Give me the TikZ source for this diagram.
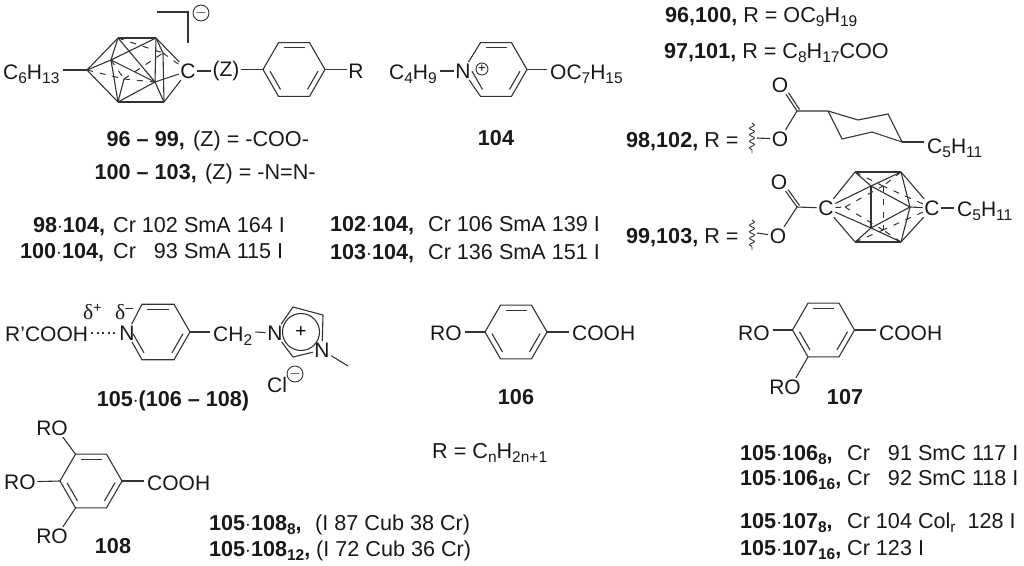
\documentclass[tikz,border=0pt]{standalone}
\usepackage{fontspec}
\setmainfont{Liberation Sans}
\newfontfamily\grkfont{Liberation Serif}
\usetikzlibrary{positioning,decorations.pathmorphing}

\tikzset{
  bond/.style={line width=1.1pt, black!80},
  backbond/.style={line width=1pt, black!80, dash pattern=on 6pt off 7pt},
  wavy/.style={line width=0.9pt, black!80, decorate, decoration={snake, amplitude=2.5pt, segment length=6.5pt}},
  atom/.style={inner sep=1.5pt, font=\fontsize{21}{24}\selectfont, text=black!90},
  txt/.style={inner sep=0pt, anchor=base west, font=\fontsize{21.6}{24}\selectfont, text=black!90},
  chem/.style={txt, inner xsep=3pt, font=\fontsize{21}{24}\selectfont},
  lab/.style={txt, anchor=base, font=\fontsize{21.6}{24}\selectfont\bfseries},
  charge/.style={circle, draw=black!80, line width=0.9pt, minimum size=16pt, inner sep=0pt, font=\fontsize{15}{15}\selectfont}
}

% lowered index in the running font
\newcommand{\idx}[1]{{\fontsize{15.5}{15}\selectfont\raisebox{-4pt}{#1}}}
\newcommand{\dlt}[1]{{\grkfont δ}{\fontsize{14}{14}\selectfont\raisebox{7pt}{#1}}}

% six corners and the three inner double bonds of a ring
\newcommand{\ringat}[4]{%
  \foreach \a/\i in {180/1,-120/2,-60/3,0/4,60/5,120/6} {
    \coordinate (#1\i) at ([shift={(#2,#3)}]\a:#4);
    \coordinate (#1i\i) at ([shift={(#2,#3)}]\a:#4-6);
  }
  \foreach \p/\q in {2/3,4/5,6/1} \draw[bond, shorten >=2pt, shorten <=2pt] (#1i\p) -- (#1i\q);
}

\begin{document}
\begin{tikzpicture}[x=1pt, y=-1pt]
\useasboundingbox (0,0) rectangle (1024,565);

% Carborane anion 96-103
\node[chem] (hexyl) at (0,79) {C\idx{6}H\idx{13}};
\node[atom] (cI) at (188,71) {C};
\node[atom] (zgrp) at (226,71) {(Z)};
\node[atom] (rI) at (356,71) {R};
\coordinate (cL) at (87,70);
\coordinate (cTL) at (118,38);
\coordinate (cTR) at (156,38);
\coordinate (cBL) at (118,102);
\coordinate (cBR) at (164,102);
\coordinate (cA) at (111,60);
\coordinate (cB) at (155,82);
\coordinate (cP) at (124,79);
\coordinate (cQ) at (163,53);
\foreach \p/\q in {cL/cTL,cL/cBL,cTL/cTR,cBL/cBR,cL/cA,cA/cTL,cA/cTR,cA/cBL,cA/cB,cTL/cB,cB/cBL,cB/cBR,cB/cI,cTR/cI,cBR/cI,cQ/cBR,cTR/cB,cP/cBL,cTR/cQ}
  \draw[bond] (\p) -- (\q);
\foreach \p/\q in {cL/cP,cP/cB,cP/cQ,cTL/cQ,cQ/cI,cA/cP}
  \draw[backbond] (\p) -- (\q);
\draw[bond] (hexyl.east |- cL) -- (cL);
% bracket and charge
\coordinate (brA) at (157,12);
\coordinate (brB) at (188,12);
\coordinate (brC) at (188,43);
\draw[bond] (brA) -- (brB) -- (brC);
\node[charge] (minusI) at (201,13) {$-$};

% Phenyl ring of 96
\ringat{pI}{294}{69.5}{31}
\draw[bond] (pI1) -- (pI2) -- (pI3) -- (pI4) -- (pI5) -- (pI6) -- cycle;
\draw[bond] (cI) -- (zgrp);
\draw[bond] (zgrp.east |- pI1) -- (pI1);
\draw[bond] (pI4) -- (rI.west |- pI4);
\node[txt, anchor=base east] (capI) at (185,146) {\textbf{96 – 99,}};
\node[txt] (capIb) at (193,146) {(Z) = -COO-};
\node[txt, anchor=base east] (capII) at (197,179) {\textbf{100 – 103,}};
\node[txt] (capIIb) at (205,179) {(Z) = -N=N-};

% Pyridinium 104
\ringat{pII}{496}{69.5}{31}
\node[chem] (butyl) at (386,79) {C\idx{4}H\idx{9}};
\node[atom] (nII) at (463,71) {N};
\node[charge, minimum size=12pt, font=\fontsize{13}{13}\selectfont] (plusII) at (482,69) {+};
\node[chem] (heptyl) at (547,79) {OC\idx{7}H\idx{15}};
\draw[bond] (nII) -- (pII2) -- (pII3) -- (pII4) -- (pII5) -- (pII6) -- (nII);
\draw[bond] (butyl.east |- nII) -- (nII);
\draw[bond] (pII4) -- (heptyl.west |- pII4);
\node[lab] (lbCIV) at (496,145) {104};

% R groups top right
\node[txt] (rgA) at (665,22) {\textbf{96,100,} R = OC\idx{9}H\idx{19}};
\node[txt] (rgB) at (664,58) {\textbf{97,101,} R = C\idx{8}H\idx{17}COO};
\node[txt] (rgC) at (626,147) {\textbf{98,102,} R =};
\node[txt] (rgD) at (626,243) {\textbf{99,103,} R =};

% Cyclohexane ester
\coordinate (wavA) at (752,123);
\coordinate (wavB) at (752,153);
\draw[wavy] (wavA) -- (wavB);
\coordinate (wavC) at (757,138);
\node[atom] (oA) at (780,139) {O};
\node[atom] (oB) at (780,85) {O};
\coordinate (coA) at (797,111);
\coordinate (hxA) at (828,111);
\coordinate (hxB) at (858,120);
\coordinate (hxC) at (888,114);
\coordinate (hxD) at (902,142);
\coordinate (hxE) at (872,132);
\coordinate (hxF) at (842,139);
\node[chem] (pentA) at (924,153) {C\idx{5}H\idx{11}};
\draw[bond] (wavC) -- (oA);
\draw[bond] (oA) -- (coA) -- (hxA) -- (hxB) -- (hxC) -- (hxD) -- (hxE) -- (hxF) -- (hxA);
\draw[bond] (coA) -- (oB);
\draw[bond, transform canvas={xshift=2.5pt, yshift=1.5pt}] (coA) -- (oB);
\draw[bond] (hxD) -- (pentA.west |- hxD);

% Carborane ester
\coordinate (wavD) at (752,220);
\coordinate (wavE) at (752,250);
\draw[wavy] (wavD) -- (wavE);
\coordinate (wavF) at (757,233);
\node[atom] (oC) at (778,236) {O};
\node[atom] (oD) at (779,182) {O};
\coordinate (coB) at (797,207);
\node[atom] (cII) at (826,208) {C};
\node[atom] (cIII) at (932,208) {C};
\node[chem] (pentB) at (954,216) {C\idx{5}H\idx{11}};
\coordinate (dTL) at (855,172);
\coordinate (dTR) at (901,172);
\coordinate (dBL) at (855,242);
\coordinate (dBR) at (901,242);
\coordinate (dA) at (871,186);
\coordinate (dB) at (871,228);
\coordinate (dD) at (910,207);
\coordinate (dE) at (845,207);
\coordinate (dF) at (883,186);
\coordinate (dG) at (883,230);
\draw[bond] (wavF) -- (oC);
\draw[bond] (oC) -- (coB) -- (cII);
\draw[bond] (coB) -- (oD);
\draw[bond, transform canvas={xshift=2.5pt, yshift=1.5pt}] (coB) -- (oD);
\draw[bond] (cIII) -- (pentB.west |- cIII);
\foreach \p/\q in {cII/dTL,cII/dBL,dTL/dTR,dBL/dBR,dTR/cIII,dBR/cIII,dTL/dA,dA/dTR,dA/dB,dBL/dB,dB/dBR,dA/dD,dB/dD,dTR/dD,dBR/dD,dD/cIII,cII/dA,cII/dB}
  \draw[bond] (\p) -- (\q);
\foreach \p/\q in {cII/dE,dE/dF,dE/dG,dF/dG,dTL/dF,dTR/dF,dBL/dG,dBR/dG,cIII/dF,cIII/dG}
  \draw[backbond] (\p) -- (\q);

% Phase data, left block
\node[txt] (dtA) at (33,232) {\textbf{98$\cdot$104,}};
\node[txt] (dtAb) at (113,232) {Cr 102 SmA 164 I};
\node[txt] (dtB) at (20,258) {\textbf{100$\cdot$104,}};
\node[txt] (dtBb) at (113,258) {Cr \ \ 93 SmA 115 I};
\node[txt] (dtC) at (330,231) {\textbf{102$\cdot$104,}};
\node[txt] (dtCb) at (428,231) {Cr 106 SmA 139 I};
\node[txt] (dtD) at (330,259) {\textbf{103$\cdot$104,}};
\node[txt] (dtDb) at (428,259) {Cr 136 SmA 151 I};

% Salt 105
\node[chem] (acid) at (2,341) {R'COOH};
\node[atom] (nPy) at (127,333) {N};
\node[txt] (dplus) at (83,319) {\dlt{+}};
\node[txt] (dminus) at (115,319) {\dlt{–}};
\ringat{pIII}{158}{332}{32}
\node[chem] (meth) at (210,341) {CH\idx{2}};
\node[atom] (nImA) at (275,333) {N};
\node[atom] (nImB) at (322,350) {N};
\coordinate (imA) at (293,307);
\coordinate (imB) at (323,315);
\coordinate (imC) at (293,357);
\coordinate (mthl) at (348,366);
\draw[bond] (nPy) -- (pIII2) -- (pIII3) -- (pIII4) -- (pIII5) -- (pIII6) -- (nPy);
\draw[bond, line width=1.5pt, dash pattern=on 2pt off 3.5pt] (acid.east |- nPy) -- (nPy);
\draw[bond] (pIII4) -- (meth.west |- pIII4);
\draw[bond] (meth.east |- pIII4) -- (nImA);
\draw[bond] (nImA) -- (imA) -- (imB) -- (nImB) -- (imC) -- (nImA);
\draw[bond] (nImB) -- (mthl);
\node[circle, draw=black!80, line width=1.1pt, minimum size=37pt, inner sep=0pt, font=\fontsize{19}{19}\selectfont] (plusIm) at (301,332) {+};
\node[atom] (cl) at (277,385) {Cl};
\node[charge] (minusCl) at (295,374) {$-$};
\node[lab] (lbCV) at (173,406) {105$\cdot$(106 – 108)};

% Acids 106, 107, 108
\ringat{pIV}{516}{332}{31}
\draw[bond] (pIV1) -- (pIV2) -- (pIV3) -- (pIV4) -- (pIV5) -- (pIV6) -- cycle;
\node[chem] (roA) at (427,340) {RO};
\node[chem] (cooA) at (569,340) {COOH};
\draw[bond] (roA.east |- pIV1) -- (pIV1);
\draw[bond] (pIV4) -- (cooA.west |- pIV4);
\node[lab] (lbCVI) at (516,404) {106};

\ringat{pV}{823.5}{330}{31}
\draw[bond] (pV1) -- (pV2) -- (pV3) -- (pV4) -- (pV5) -- (pV6) -- cycle;
\node[chem] (roB) at (735,340) {RO};
\node[chem] (cooB) at (876,340) {COOH};
\node[atom] (roC) at (785,387) {RO};
\draw[bond] (roB.east |- pV1) -- (pV1);
\draw[bond] (pV4) -- (cooB.west |- pV4);
\draw[bond] (pV6) -- (roC.40);
\node[lab] (lbCVII) at (845,404) {107};

\ringat{pVI}{91}{481}{31}
\draw[bond] (pVI1) -- (pVI2) -- (pVI3) -- (pVI4) -- (pVI5) -- (pVI6) -- cycle;
\node[atom] (roD) at (52,428) {RO};
\node[atom] (roE) at (20,482) {RO};
\node[atom] (roF) at (52,536) {RO};
\node[chem] (cooC) at (144,490) {COOH};
\draw[bond] (pVI2) -- (roD.-40);
\draw[bond] (pVI1) -- (roE);
\draw[bond] (pVI6) -- (roF.40);
\draw[bond] (pVI4) -- (cooC.west |- pVI4);
\node[lab] (lbCVIII) at (113,553) {108};

% Remaining captions and phase data
\node[txt] (gen) at (432,458) {R = C\idx{n}H\idx{2n+1}};
\node[txt] (dtE) at (209,530) {\textbf{105$\cdot$108\idx{8},}};
\node[txt] (dtEb) at (315,530) {(I 87 Cub 38 Cr)};
\node[txt] (dtF) at (209,556) {\textbf{105$\cdot$108\idx{12},}};
\node[txt] (dtFb) at (316,556) {(I 72 Cub 36 Cr)};
\node[txt] (dtG) at (740,460) {\textbf{105$\cdot$106\idx{8},}};
\node[txt] (dtGb) at (847,460) {Cr \ \ 91 SmC 117 I};
\node[txt] (dtH) at (740,485) {\textbf{105$\cdot$106\idx{16},}};
\node[txt] (dtHb) at (847,485) {Cr \ \ 92 SmC 118 I};
\node[txt] (dtJ) at (740,528) {\textbf{105$\cdot$107\idx{8},}};
\node[txt] (dtJb) at (847,528) {Cr 104 Col\idx{r} \ 128 I};
\node[txt] (dtK) at (740,555) {\textbf{105$\cdot$107\idx{16},}};
\node[txt] (dtKb) at (847,555) {Cr 123 I};
\end{tikzpicture}
\end{document}
